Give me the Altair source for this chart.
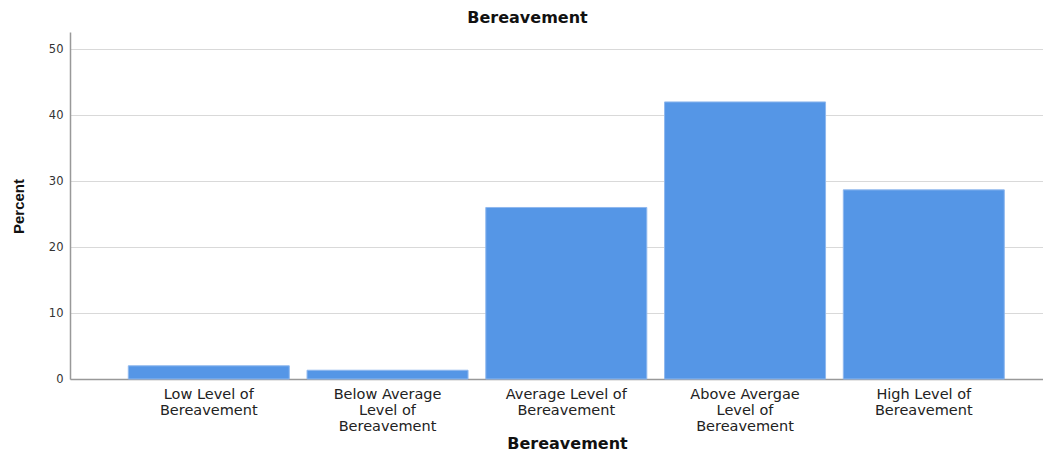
import altair as alt
import pandas as pd

categories = [
    "Low Level of|Bereavement",
    "Below Average|Level of|Bereavement",
    "Average Level of|Bereavement",
    "Above Avergae|Level of|Bereavement",
    "High Level of|Bereavement",
]
percents = [2.0, 1.33, 26.0, 42.0, 28.67]
y_ticks = [0, 10, 20, 30, 40, 50]

df = pd.DataFrame({"category": categories, "percent": percents})

W, H = 973, 347

bars = alt.Chart(df).mark_bar(
    color="#5596e6", stroke="#8fb8ee", strokeWidth=1
).encode(
    x=alt.X(
        "category:N",
        sort=categories,
        scale=alt.Scale(paddingInner=0.0993, paddingOuter=0.2713, align=0.601, round=False),
        axis=alt.Axis(
            title="Bereavement",
            labelAngle=0,
            labelExpr="split(datum.label, '|')",
            labelFont="DejaVu Sans",
            labelFontSize=14.5,
            labelLineHeight=16,
            labelColor="#222222",
            labelPadding=8,
            ticks=False,
            tickSize=0,
            domainColor="#999999",
            domainWidth=1.5,
            titleFont="DejaVu Sans",
            titleFontSize=16,
            titleFontWeight="bold",
            titleColor="#111111",
            titleX=497,
            titleY=64,
            titleBaseline="middle",
            titleAlign="center",
        ),
    ),
    y=alt.Y(
        "percent:Q",
        scale=alt.Scale(domain=[0, 52.6], nice=False, zero=True),
        axis=alt.Axis(
            title="Percent",
            values=y_ticks,
            labelFont="DejaVu Sans",
            labelFontSize=11.5,
            labelColor="#333333",
            labelPadding=7,
            ticks=False,
            tickSize=0,
            domainColor="#999999",
            domainWidth=1.5,
            gridColor="#d9d9d9",
            gridWidth=1.2,
            titleFont="Liberation Sans",
            titleFontSize=15,
            titleFontWeight="bold",
            titleColor="#111111",
            titleAngle=-90,
            titleX=-52,
            titleY=174,
            titleBaseline="middle",
            titleAlign="center",
        ),
    ),
)

chart = bars.properties(
    width=W,
    height=H,
    title=alt.TitleParams(
        "Bereavement",
        font="DejaVu Sans",
        fontSize=16,
        fontWeight="bold",
        color="#111111",
        anchor="middle",
        frame="group",
        baseline="middle",
        dx=-29,
        offset=-2,
    ),
    padding={"left": 62, "top": 24, "right": 0, "bottom": 74},
    autosize=alt.AutoSizeParams(type="none"),
).configure_view(stroke=None)

chart.save("out.html", embed_options={"renderer": "svg", "actions": False})
